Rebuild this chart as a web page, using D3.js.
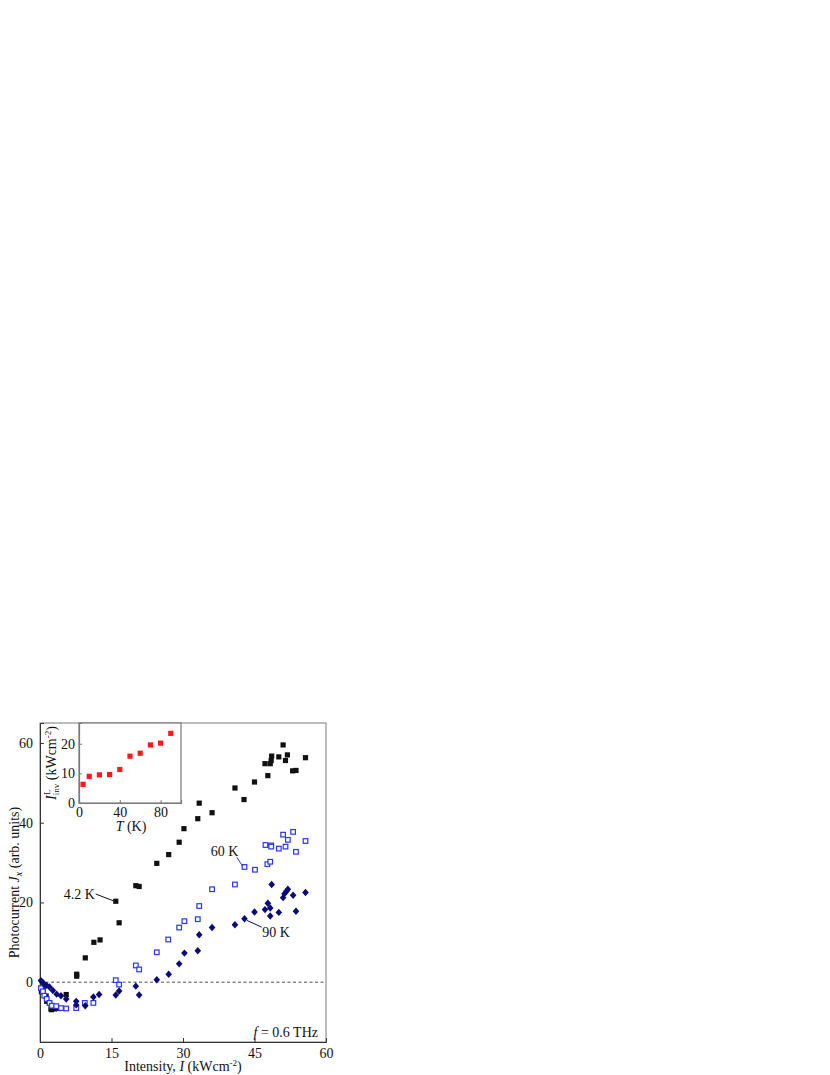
<!DOCTYPE html>
<html><head><meta charset="utf-8">
<script src="https://cdn.jsdelivr.net/npm/d3@7"></script>
<style>body{margin:0;background:#fff}svg{display:block}text{font-family:"Liberation Serif","Times New Roman",serif;fill:#111}</style>
</head><body><svg id="c" width="830" height="1075"></svg>
<script>
// ---- data ----
const xTicks = [0, 15, 30, 45, 60];
const yTicks = [0, 20, 40, 60];
const insetXTicks = [0, 40, 80];
const insetYTicks = [0, 10, 20];
const series42K = [[0.3,-2.4],[0.7,-1.9],[1.3,-3.5],[1.4,-4.8],[2.0,-5.2],[2.3,-6.7],[2.4,-6.9],[3.0,-6.7],[4.0,-6.6],[5.5,-3.1],[7.7,1.5],[7.7,2.0],[9.5,6.1],[11.3,10.0],[12.6,10.6],[15.9,20.3],[16.6,14.9],[20.1,24.2],[20.8,24.0],[24.5,29.8],[27.0,32.0],[29.2,35.1],[30.2,38.5],[33.1,41.0],[33.4,44.9],[36.1,42.5],[40.9,48.7],[42.8,45.8],[45.0,50.2],[47.2,54.8],[47.8,51.8],[48.3,54.8],[48.5,55.6],[48.6,56.7],[50.1,56.5],[51.0,59.5],[51.5,55.6],[51.9,57.0],[53.0,53.0],[53.7,53.1],[55.7,56.3]];
const series60K = [[0.2,-1.5],[0.6,-2.3],[0.9,-3.4],[1.4,-4.2],[2.0,-5.2],[2.5,-5.9],[3.4,-6.0],[4.4,-6.5],[5.5,-6.6],[7.6,-6.5],[9.4,-5.2],[11.2,-5.2],[15.9,0.5],[16.6,-0.6],[20.1,4.2],[20.8,3.2],[24.5,7.5],[26.9,10.7],[29.2,13.7],[30.3,15.3],[33.1,15.8],[33.4,19.1],[36.1,23.3],[40.9,24.5],[42.9,28.9],[45.1,28.2],[47.3,34.4],[47.7,29.6],[48.3,30.2],[48.5,34.3],[48.5,34.0],[50.1,33.5],[51.0,37.0],[51.5,34.0],[52.0,35.7],[53.1,37.7],[53.7,32.7],[55.7,35.4]];
const series90K = [[0.2,0.4],[0.56,-0.05],[0.9,-0.5],[1.4,-0.8],[2.0,-1.2],[2.7,-2.1],[3.5,-3.0],[4.4,-3.4],[5.5,-4.2],[7.6,-4.8],[7.6,-5.7],[9.5,-5.9],[11.2,-3.7],[12.4,-3.1],[15.9,-3.2],[16.6,-2.2],[20.1,-1.0],[20.8,-3.2],[24.5,0.6],[27.0,2.0],[29.2,4.6],[30.3,7.3],[33.1,7.9],[33.4,11.9],[36.1,13.7],[40.9,14.4],[42.9,15.9],[45.0,17.6],[47.2,18.2],[47.8,19.8],[48.3,18.6],[48.3,16.6],[48.6,24.5],[50.1,17.5],[51.0,21.2],[51.3,22.2],[51.7,22.8],[52.0,23.3],[53.1,21.8],[53.7,17.8],[55.7,22.5]];
const insetT = [4, 10, 20, 30, 40, 50, 60, 70, 80, 90];
const insetIinv = [6.3, 9.0, 9.5, 9.6, 11.3, 15.8, 16.8, 19.6, 20.2, 23.5];

// ---- layout ----
const svg = d3.select("#c");
const P = {l: 40, r: 326, t: 723, b: 1042};
const x = d3.scaleLinear().domain([0, 60]).range([P.l, P.r]);
const y = d3.scaleLinear().domain([-15, 65]).range([P.b, P.t]);

const frame = "#7a7a7a";
svg.append("rect").attr("x", P.l).attr("y", P.t).attr("width", P.r - P.l).attr("height", P.b - P.t)
  .attr("fill", "none").attr("stroke", frame).attr("stroke-width", 1);

// axes
const gx = svg.append("g").attr("transform", `translate(0,${P.b})`)
  .call(d3.axisBottom(x).tickValues(xTicks).tickSize(-4).tickPadding(6));
const gy = svg.append("g").attr("transform", `translate(${P.l},0)`)
  .call(d3.axisLeft(y).tickValues(yTicks).tickSize(-4).tickPadding(7));
[gx, gy].forEach(g => {
  g.attr("font-family", null);
  g.select(".domain").attr("stroke", "#333");
  g.selectAll(".tick line").attr("stroke", "#333");
  g.selectAll(".tick text").attr("font-size", 14).attr("fill", "#111");
});

// zero dashed line
svg.append("line").attr("x1", x(0)).attr("x2", x(60)).attr("y1", y(0)).attr("y2", y(0))
  .attr("stroke", "#222").attr("stroke-width", 0.8).attr("stroke-dasharray", "3,2.5");

// data marks
svg.append("g").selectAll("rect").data(series42K).join("rect")
  .attr("x", d => x(d[0]) - 2.6).attr("y", d => y(d[1]) - 2.6).attr("width", 5.2).attr("height", 5.2).attr("fill", "#111");
svg.append("g").selectAll("rect").data(series60K).join("rect")
  .attr("x", d => x(d[0]) - 2.3).attr("y", d => y(d[1]) - 2.3).attr("width", 4.6).attr("height", 4.6)
  .attr("fill", "#fff").attr("stroke", "#2a35f0").attr("stroke-width", 1.2);
const diamondPath = "M0,-3.7L3.3,0L0,3.7L-3.3,0Z";
svg.append("g").selectAll("path").data(series90K).join("path")
  .attr("d", diamondPath).attr("transform", d => `translate(${x(d[0])},${y(d[1])})`).attr("fill", "#0a0a7a");

// annotations
function annot(tx, ty, anchor, label, x1, y1, x2, y2, col) {
  svg.append("line").attr("x1", x(x1)).attr("y1", y(y1)).attr("x2", x(x2)).attr("y2", y(y2))
    .attr("stroke", col).attr("stroke-width", 1);
  svg.append("text").attr("x", x(tx)).attr("y", y(ty)).attr("dy", "0.35em").attr("text-anchor", anchor)
    .attr("font-size", 14).text(label);
}
annot(11.5, 22.1, "end", "4.2 K", 11.7, 22.1, 15.4, 20.4, "#111");
annot(41.6, 32.9, "end", "60 K", 41.3, 31.3, 42.5, 29.1, "#2a35f0");
annot(46.6, 12.5, "start", "90 K", 43.4, 15.5, 46.5, 13.8, "#0a0a7a");

// f = 0.6 THz
const ft = svg.append("text").attr("x", 318).attr("y", 1036.5).attr("text-anchor", "end").attr("font-size", 14);
ft.append("tspan").attr("font-style", "italic").text("f");
ft.append("tspan").text(" = 0.6 THz");

// axis titles
const xt = svg.append("text").attr("x", (P.l + P.r) / 2).attr("y", 1071).attr("text-anchor", "middle").attr("font-size", 14);
xt.append("tspan").text("Intensity, ");
xt.append("tspan").attr("font-style", "italic").text("I");
xt.append("tspan").text(" (kWcm");
xt.append("tspan").attr("font-size", 9).attr("dy", -5).text("-2");
xt.append("tspan").attr("dy", 5).text(")");

const yt = svg.append("text").attr("transform", `translate(19,${(P.t + P.b) / 2}) rotate(-90)`)
  .attr("text-anchor", "middle").attr("font-size", 14);
yt.append("tspan").text("Photocurrent ");
yt.append("tspan").attr("font-style", "italic").text("J");
yt.append("tspan").attr("font-style", "italic").attr("font-size", 10).attr("dy", 3).text("x");
yt.append("tspan").attr("dy", -3).text(" (arb. units)");

// ---- inset ----
const I = {l: 79, r: 181, t: 723, b: 803};
const ix = d3.scaleLinear().domain([0, 100]).range([I.l, I.r]);
const iy = d3.scaleLinear().domain([0, 27]).range([I.b, I.t]);
svg.append("rect").attr("x", I.l).attr("y", I.t).attr("width", I.r - I.l).attr("height", I.b - I.t)
  .attr("fill", "#fff").attr("stroke", frame).attr("stroke-width", 1.2);
const igx = svg.append("g").attr("transform", `translate(0,${I.b})`)
  .call(d3.axisBottom(ix).tickValues(insetXTicks).tickSize(-3).tickPadding(4));
const igy = svg.append("g").attr("transform", `translate(${I.l},0)`)
  .call(d3.axisLeft(iy).tickValues(insetYTicks).tickSize(-3).tickPadding(4));
[igx, igy].forEach(g => {
  g.attr("font-family", null);
  g.select(".domain").attr("stroke", frame).attr("stroke-width", 1.2);
  g.selectAll(".tick line").attr("stroke", frame);
  g.selectAll(".tick text").attr("font-size", 14).attr("fill", "#111");
});
svg.append("g").selectAll("rect").data(insetT).join("rect")
  .attr("x", (d) => ix(d) - 2.6).attr("y", (d, i) => iy(insetIinv[i]) - 2.6)
  .attr("width", 5.2).attr("height", 5.2).attr("fill", "#ff1a1a");

const itx = svg.append("text").attr("x", 131).attr("y", 831).attr("text-anchor", "middle").attr("font-size", 14);
itx.append("tspan").attr("font-style", "italic").text("T");
itx.append("tspan").text(" (K)");

const ity = svg.append("text").attr("transform", `translate(56,${(I.t + I.b) / 2}) rotate(-90)`)
  .attr("text-anchor", "middle").attr("font-size", 14);
ity.append("tspan").attr("font-style", "italic").text("I");
ity.append("tspan").attr("font-size", 9).attr("dx", 0.5).attr("dy", -6).text("L");
ity.append("tspan").attr("font-size", 9).attr("dx", -6).attr("dy", 9).text("inv");
ity.append("tspan").attr("dy", -3).text(" (kWcm");
ity.append("tspan").attr("font-size", 9).attr("dy", -5).text("-2");
ity.append("tspan").attr("dy", 5).text(")");
</script></body></html>
